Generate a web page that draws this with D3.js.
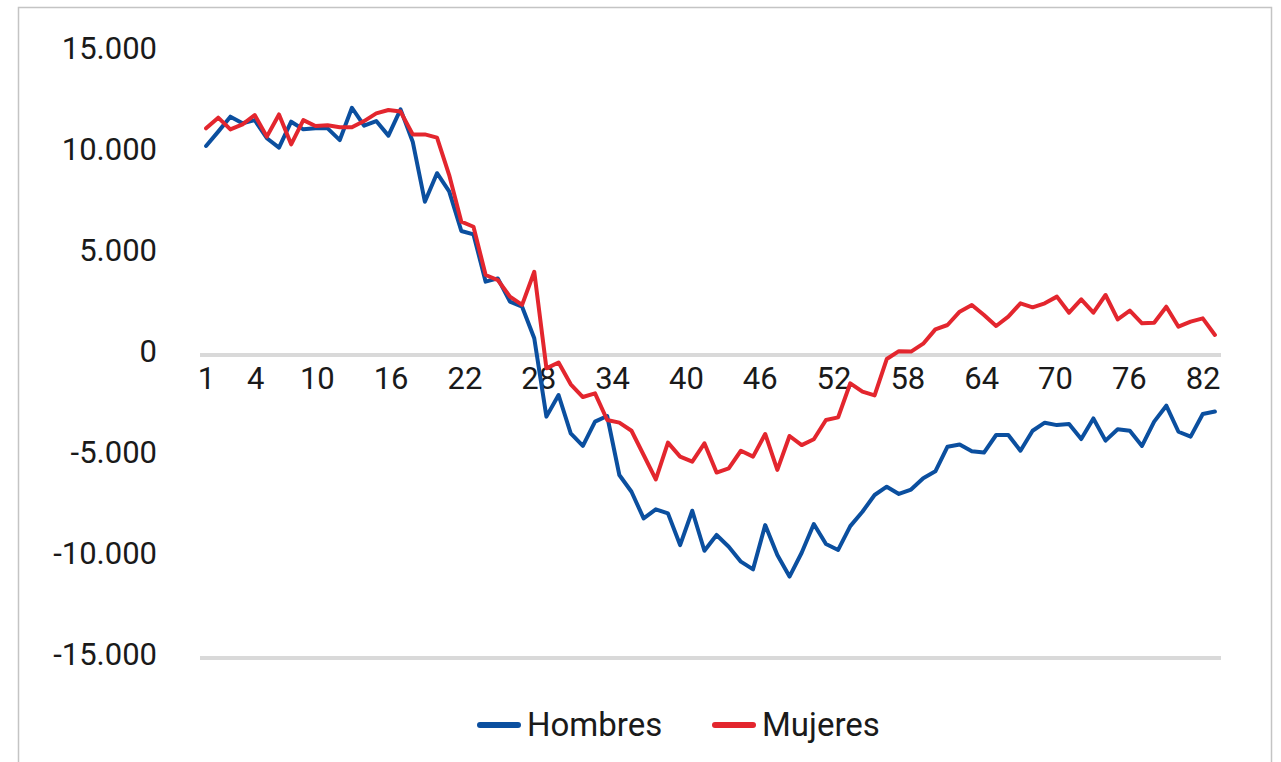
<!DOCTYPE html>
<html lang="es">
<head>
<meta charset="UTF-8" />
<title>Hombres y Mujeres</title>
<script src="https://d3js.org/d3.v7.min.js"></script>
<style>
    body { margin: 0; background: #fff; }
    svg { display: block; font-family: Roboto, "Noto Sans", sans-serif; }
</style>
</head>
<body>
<script>
    var w = 1281;
    var h = 762;

    // series (84 points)
    var hombres = [
        10350, 11060, 11800, 11470, 11630, 10730, 10270, 11550, 11170, 11220,
        11220, 10640, 12240, 11350, 11580, 10860, 12160, 10560, 7590, 9000,
        8100, 6140, 5970, 3630, 3790, 2640, 2390, 830, -3050, -1980,
        -3880, -4500, -3300, -3020, -5940, -6770, -8090, -7640, -7840, -9410,
        -7710, -9690, -8910, -9490, -10230, -10610, -8420, -9900, -10970, -9790,
        -8370, -9360, -9650, -8470, -7760, -6930, -6520, -6880, -6660, -6100,
        -5760, -4540, -4430, -4760, -4830, -3960, -3960, -4740, -3750, -3350,
        -3470, -3420, -4160, -3140, -4240, -3680, -3750, -4500, -3300, -2510,
        -3800, -4040, -2920, -2800
    ];
    var mujeres = [
        11220, 11750, 11170, 11420, 11880, 10810, 11910, 10430, 11630, 11340,
        11370, 11270, 11270, 11580, 11960, 12130, 12050, 10920, 10920, 10760,
        8910, 6600, 6350, 3960, 3710, 2890, 2480, 4120, -660, -370,
        -1450, -2080, -1900, -3220, -3350, -3750, -4950, -6160, -4340, -5030,
        -5280, -4370, -5820, -5610, -4740, -5030, -3910, -5690, -4010, -4460,
        -4170, -3220, -3090, -1400, -1810, -2000, -200, 190, 170, 560,
        1270, 1485, 2145, 2475, 1980, 1435, 1900, 2560, 2360, 2560,
        2890, 2095, 2755, 2095, 2970, 1765, 2195, 1570, 1600, 2390,
        1400, 1650, 1815, 990
    ];

    var xTickLabels = ["1", "4", "10", "16", "22", "28", "34", "40", "46", "52", "58", "64", "70", "76", "82"];
    var xTickAt = [1, 5, 10, 16, 22, 28, 34, 40, 46, 52, 58, 64, 70, 76, 82];
    var yTicks = [-15000, -10000, -5000, 0, 5000, 10000, 15000];
    var seriesNames = ["Hombres", "Mujeres"];
    var colors = ["#0b4f9f", "#e3262e"];

    var svg = d3.select("body").append("svg")
        .attr("width", w)
        .attr("height", h);

    // outer frame
    svg.append("rect")
        .attr("x", 18.5).attr("y", 7.5)
        .attr("width", 1253).attr("height", 780)
        .attr("fill", "none")
        .attr("stroke", "#c4c4c4")
        .attr("stroke-width", 1.5);

    var xBand = d3.scaleBand()
        .domain(d3.range(hombres.length))
        .range([200, 1221]);
    var x = function (i) { return xBand(i) + xBand.bandwidth() / 2; };

    // label axis runs over the same span as the points
    var xLabel = d3.scaleLinear()
        .domain([1, hombres.length - 1])
        .range([x(0), x(hombres.length - 1)]);

    var y = d3.scaleLinear()
        .domain([-15000, 15000])
        .range([658, 52]);

    var es = d3.formatLocale({ decimal: ",", thousands: ".", grouping: [3], currency: ["", ""], minus: "-" });
    var fmt = es.format(",d");

    // grey lines at 0 and at the bottom
    svg.selectAll("line.grid")
        .data([0, -15000])
        .enter()
        .append("line")
        .attr("class", "grid")
        .attr("x1", 200).attr("x2", 1221)
        .attr("y1", function (d) { return y(d); })
        .attr("y2", function (d) { return y(d); })
        .attr("stroke", "#d9d9d9")
        .attr("stroke-width", 4);

    var yAxis = svg.append("g")
        .attr("transform", "translate(157,-3)")
        .call(d3.axisLeft(y).tickValues(yTicks).tickFormat(fmt).tickSize(0).tickPadding(0));
    yAxis.select(".domain").remove();
    yAxis.selectAll("text")
        .attr("font-size", 31)
        .attr("font-family", "Roboto")
        .attr("fill", "#1a1a1a");

    var xAxis = svg.append("g")
        .attr("transform", "translate(0,367)")
        .call(d3.axisBottom(xLabel).tickValues(xTickAt)
            .tickFormat(function (d, i) { return xTickLabels[i]; })
            .tickSize(0).tickPadding(0));
    xAxis.select(".domain").remove();
    xAxis.selectAll("text")
        .attr("font-size", 31)
        .attr("font-family", "Roboto")
        .attr("fill", "#1a1a1a");

    var line = d3.line()
        .x(function (d, i) { return x(i); })
        .y(function (d) { return y(d); });

    [hombres, mujeres].forEach(function (s, k) {
        svg.append("path")
            .datum(s)
            .attr("d", line)
            .attr("fill", "none")
            .attr("stroke", colors[k])
            .attr("stroke-width", 4)
            .attr("stroke-linejoin", "round")
            .attr("stroke-linecap", "round");
    });

    // legend
    var legendX = [480, 715];
    var lg = svg.selectAll("g.legend")
        .data(seriesNames)
        .enter()
        .append("g")
        .attr("class", "legend")
        .attr("transform", function (d, i) { return "translate(" + legendX[i] + ",725)"; });
    lg.append("line")
        .attr("x1", 0).attr("x2", 38)
        .attr("stroke", function (d, i) { return colors[i]; })
        .attr("stroke-width", 6)
        .attr("stroke-linecap", "round");
    lg.append("text")
        .attr("x", 47)
        .attr("y", 11)
        .attr("font-size", 33)
        .attr("fill", "#1a1a1a")
        .text(function (d) { return d; });
</script>
</body>
</html>
